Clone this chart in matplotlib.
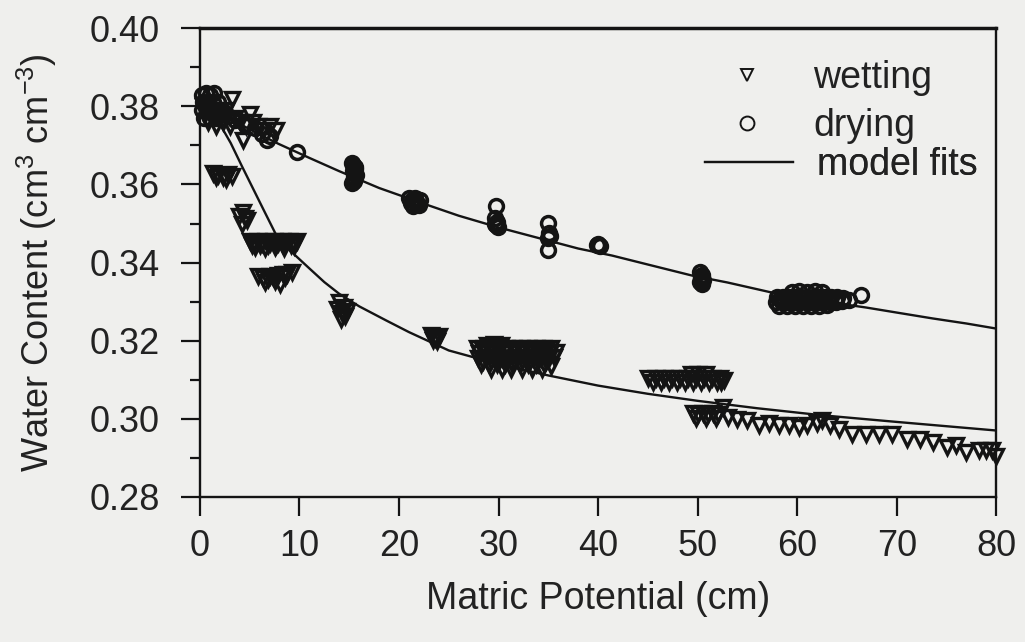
import numpy as np
import matplotlib
matplotlib.use('Agg')
import matplotlib.pyplot as plt
from matplotlib.lines import Line2D

plt.rcParams['font.family'] = ['Liberation Sans', 'DejaVu Sans']
plt.rcParams['mathtext.default'] = 'regular'

# --- wetting observations (matric potential cm, water content) ---
wet_x = [0.3, 0.5, 0.8, 1.0, 1.3, 1.6, 2.0, 2.3, 2.6, 3.0, 3.2, 3.5, 4.0, 4.3, 4.6, 5.0, 5.3, 5.8, 6.3, 7.0, 7.6,
         1.3, 1.8, 2.3, 2.8, 3.2, 1.6, 2.6,
         3.9, 4.3, 4.7, 4.2, 4.5,
         5.0, 5.4, 5.8, 6.2, 6.6, 7.0, 7.4, 7.8, 8.2, 8.6, 9.0, 9.4, 9.8, 5.5, 6.5, 7.5, 8.5, 9.5,
         5.2, 6.0, 6.8, 7.6, 8.4, 9.2,
         5.8, 6.3, 6.8, 7.3, 7.8, 8.3, 8.8, 9.3, 6.5, 7.5, 8.0, 7.0, 8.6,
         14.0, 14.5, 13.8, 14.3, 14.6, 14.2, 14.8,
         23.2, 23.6, 24.0, 23.8, 23.4,
         28.8, 29.5, 30.2,
         27.8, 28.5, 29.3, 30.0, 30.8, 31.5, 32.3, 33.0, 33.8, 34.5, 35.3,
         28.0, 28.8, 29.6, 30.4, 31.2, 32.0, 32.8, 33.6, 34.4, 35.2, 35.8,
         27.9, 28.7, 29.5, 30.3, 31.1, 31.9, 32.7, 33.5, 34.3, 35.1, 35.6,
         28.2, 29.0, 29.8, 30.6, 31.4, 32.2, 33.0, 33.8, 34.6, 35.3,
         29.2, 30.3, 31.3, 32.4, 33.4, 34.4,
         28.4, 29.2, 30.0, 30.8, 31.6, 32.4, 33.2, 34.0, 34.8,
         28.4, 29.2, 30.0, 30.8, 31.6, 32.4, 33.2, 34.0, 34.8,
         45.0, 45.8, 46.6, 47.4, 48.2, 49.0, 49.8, 50.6, 51.4, 52.2,
         45.5, 46.3, 47.1, 47.9, 48.7, 49.5, 50.3, 51.1, 51.9,
         49.3, 50.0, 50.8, 52.6, 52.3,
         49.5, 50.0, 50.5, 51.0, 51.5, 52.0, 49.8, 50.8, 51.8, 52.5,
         53.0, 54.0, 55.0, 56.2, 57.2, 58.2, 59.2, 60.2, 61.0, 62.0, 62.5, 63.3, 64.2, 65.5,
         66.9, 68.2, 69.5, 71.0, 72.3, 73.6, 75.0, 76.0, 77.0, 78.3, 79.0, 79.6, 80.0]
wet_y = [0.380, 0.378, 0.376, 0.379, 0.377, 0.375, 0.378, 0.376, 0.379, 0.375, 0.382, 0.377, 0.376, 0.3715, 0.375,
         0.378, 0.376, 0.375, 0.374, 0.375, 0.374,
         0.3630, 0.3625, 0.3620, 0.3628, 0.3622, 0.3618, 0.3615,
         0.352, 0.353, 0.351, 0.350, 0.3515,
         0.3455, 0.3450, 0.3455, 0.3450, 0.3455, 0.3450, 0.3455, 0.3450, 0.3455, 0.3450, 0.3455, 0.3450, 0.3455,
         0.3440, 0.3438, 0.3440, 0.3438, 0.3442,
         0.3445, 0.3445, 0.3445, 0.3445, 0.3445, 0.3445,
         0.3365, 0.3360, 0.3358, 0.3362, 0.3368, 0.3370, 0.3372, 0.3375, 0.3350, 0.3352, 0.3345, 0.3366, 0.3362,
         0.3300, 0.3285, 0.3280, 0.3270, 0.3262, 0.3255, 0.3275,
         0.3215, 0.3208, 0.3212, 0.3200, 0.3203,
         0.3190, 0.3192, 0.3190,
         0.3180, 0.3180, 0.3180, 0.3180, 0.3180, 0.3180, 0.3180, 0.3180, 0.3180, 0.3180, 0.3182,
         0.3168, 0.3168, 0.3168, 0.3168, 0.3168, 0.3168, 0.3168, 0.3168, 0.3168, 0.3168, 0.3170,
         0.3155, 0.3155, 0.3155, 0.3155, 0.3155, 0.3155, 0.3155, 0.3155, 0.3155, 0.3155, 0.3157,
         0.3140, 0.3140, 0.3140, 0.3140, 0.3140, 0.3140, 0.3140, 0.3140, 0.3140, 0.3135,
         0.3127, 0.3127, 0.3127, 0.3127, 0.3127, 0.3127,
         0.3174, 0.3174, 0.3174, 0.3174, 0.3174, 0.3174, 0.3174, 0.3174, 0.3174,
         0.3148, 0.3148, 0.3148, 0.3148, 0.3148, 0.3148, 0.3148, 0.3148, 0.3148,
         0.3105, 0.3105, 0.3105, 0.3105, 0.3105, 0.3105, 0.3105, 0.3105, 0.3105, 0.3105,
         0.3093, 0.3093, 0.3093, 0.3093, 0.3093, 0.3093, 0.3093, 0.3093, 0.3093,
         0.3115, 0.3115, 0.3115, 0.3100, 0.3095,
         0.3015, 0.3012, 0.3015, 0.3012, 0.3015, 0.3012, 0.3002, 0.3002, 0.3002, 0.3030,
         0.3005, 0.3000, 0.2998, 0.2985, 0.2988, 0.2985, 0.2983, 0.2980, 0.2985, 0.2990, 0.2998, 0.2985, 0.2975,
         0.2960, 0.2960, 0.2960, 0.2962, 0.2948, 0.2948, 0.2940, 0.2928, 0.2932, 0.2915, 0.2920, 0.2920, 0.2920,
         0.2905]

# --- drying observations ---
dry_x = [0.2, 0.6, 1.0, 1.4, 0.3, 0.8, 1.3, 1.8, 0.2, 0.7, 1.2, 1.7, 2.2, 0.4, 1.0, 1.6, 2.2, 2.8,
         3.5, 4.5, 5.5, 6.2, 6.7, 7.0,
         9.75,
         15.3, 15.6, 15.4, 15.7, 15.5, 15.3, 15.6, 15.4, 15.6, 15.5, 15.5,
         21.0, 21.6, 22.1, 21.2, 21.8, 21.4, 22.0, 21.5, 21.7, 21.3,
         29.7, 29.6, 29.8, 29.7, 29.9, 29.6,
         35.0, 35.1, 35.0, 35.2, 35.0,
         40.0, 40.2, 39.9,
         50.2, 50.4, 50.3, 50.5, 50.2, 50.4, 50.3, 50.3,
         59.5, 60.2, 61.0, 61.8, 62.5,
         58.0, 58.6, 59.2, 59.8, 60.4, 61.0, 61.6, 62.2, 62.8, 63.4, 64.0, 64.6,
         57.9, 58.5, 59.1, 59.7, 60.3, 60.9, 61.5, 62.1, 62.7, 63.3, 63.9, 64.5, 65.2,
         58.2, 59.0, 59.8, 60.6, 61.4, 62.2, 63.0,
         58.3, 59.1, 59.9, 60.7, 61.5, 62.3, 63.1, 63.9,
         66.4]
dry_y = [0.3830, 0.3835, 0.3830, 0.3835, 0.3810, 0.3810, 0.3810, 0.3810, 0.3790, 0.3790, 0.3790, 0.3790, 0.3790,
         0.3770, 0.3770, 0.3770, 0.3770, 0.3775,
         0.3765, 0.3755, 0.3745, 0.3730, 0.3715, 0.3725,
         0.3683,
         0.3655, 0.3645, 0.3635, 0.3625, 0.3615, 0.3605, 0.3640, 0.3650, 0.3630, 0.3620, 0.3610,
         0.3565, 0.3565, 0.3560, 0.3552, 0.3550, 0.3545, 0.3548, 0.3558, 0.3555, 0.3560,
         0.3545, 0.3515, 0.3505, 0.3495, 0.3490, 0.3500,
         0.3502, 0.3475, 0.3462, 0.3468, 0.3432,
         0.3447, 0.3443, 0.3444,
         0.3375, 0.3368, 0.3360, 0.3355, 0.3350, 0.3345, 0.3365, 0.3352,
         0.3325, 0.3327, 0.3325, 0.3327, 0.3325,
         0.3312, 0.3312, 0.3312, 0.3312, 0.3312, 0.3312, 0.3312, 0.3312, 0.3312, 0.3312, 0.3312, 0.3310,
         0.3300, 0.3300, 0.3300, 0.3300, 0.3300, 0.3300, 0.3300, 0.3300, 0.3300, 0.3300, 0.3300, 0.3302, 0.3305,
         0.3290, 0.3290, 0.3290, 0.3290, 0.3290, 0.3290, 0.3292,
         0.3306, 0.3306, 0.3306, 0.3306, 0.3306, 0.3306, 0.3306, 0.3306,
         0.3318]

# --- model fit curves ---
fit_wet_x = [0.0, 1.0, 2.0, 3.1, 4.2, 5.35, 6.5, 7.6, 8.5, 9.6, 11.0, 12.5, 14.0, 16.0, 18.7, 21.0, 25.0,
             30.0, 35.0, 40.0, 45.0, 50.0, 56.0, 62.5, 70.0, 75.0, 80.0]
fit_wet_y = [0.3810, 0.3790, 0.3755, 0.3706, 0.3648, 0.3589, 0.3530, 0.3474, 0.3445, 0.3418, 0.3385, 0.3350,
             0.3320, 0.3288, 0.3252, 0.3222, 0.3175, 0.3140, 0.3111, 0.3085, 0.3064, 0.3046, 0.3027, 0.3009,
             0.2992, 0.2981, 0.2970]
fit_dry_x = [0.0, 2.0, 4.0, 6.0, 7.9, 11.0, 14.0, 18.0, 22.0, 26.0, 30.0, 34.0, 38.0, 41.4, 45.0, 49.4,
             53.0, 57.5, 62.0, 66.9, 70.0, 73.6, 77.0, 80.0]
fit_dry_y = [0.3825, 0.3785, 0.3755, 0.3728, 0.3704, 0.3668, 0.3634, 0.3591, 0.3555, 0.3520, 0.3490, 0.3463,
             0.3436, 0.3418, 0.3395, 0.3367, 0.3349, 0.3323, 0.3303, 0.3285, 0.3272, 0.3257, 0.3244, 0.3231]

bg = '#efefed'
ink = '#141414'
txt = '#222222'

fig = plt.figure(figsize=(10.25, 6.42), dpi=100, facecolor=bg)
ax = fig.add_axes([0.195, 0.226, 0.777, 0.730], facecolor=bg)

ax.plot(fit_wet_x, fit_wet_y, color=ink, lw=1.7, zorder=2)
ax.plot(fit_dry_x, fit_dry_y, color=ink, lw=1.7, zorder=2)
ax.plot(wet_x, wet_y, linestyle='none', marker='v', markersize=10.5, mfc='none', mec=ink, mew=2.4,
        zorder=3, clip_on=False)
ax.plot(dry_x, dry_y, linestyle='none', marker='o', markersize=10, mfc='none', mec=ink, mew=2.5,
        zorder=3, clip_on=False)

ax.set_xlim(0, 80)
ax.set_ylim(0.28, 0.40)
ax.set_xticks(np.arange(0, 81, 10))
ax.set_yticks([0.28, 0.30, 0.32, 0.34, 0.36, 0.38, 0.40])
ax.set_yticklabels(['0.28', '0.30', '0.32', '0.34', '0.36', '0.38', '0.40'])
ax.set_yticks([0.29, 0.31, 0.33, 0.35, 0.37, 0.39], minor=True)

ax.tick_params(axis='both', which='major', direction='out', length=14, width=1.6, colors=ink,
               labelsize=26, labelcolor=txt)
ax.tick_params(axis='y', which='minor', direction='out', length=7, width=1.6, colors=ink)
ax.tick_params(axis='x', pad=9)
ax.tick_params(axis='y', pad=15)
for s in ax.spines.values():
    s.set_linewidth(1.7)
    s.set_color(ink)
ax.spines['top'].set_linewidth(2.5)

ax.set_xlabel('Matric Potential (cm)', fontsize=27, color=txt, labelpad=12)
ax.set_ylabel('Water Content (cm$^3$ cm$^{-3}$)', fontsize=26, color=txt, labelpad=22)

# legend: one entry per block so the rows can sit where the original has them
legend_rows = [
    (Line2D([], [], linestyle='none', marker='v', markersize=8, mfc='none', mec=ink, mew=1.4),
     'wetting', 692, 60, 2.93, 0.3),
    (Line2D([], [], linestyle='none', marker='o', markersize=10, mfc='none', mec=ink, mew=1.4),
     'drying', 692, 108, 2.93, 0.3),
    (Line2D([], [], color=ink, lw=1.6), 'model fits', 705, 147, 2.35, 0.64),
]
for handle, label, px, py, hl, pad in legend_rows:
    leg = ax.legend([handle], [label], loc='upper left',
                    bbox_to_anchor=(px / 1025, 1 - py / 642), bbox_transform=fig.transFigure,
                    frameon=False, fontsize=27, handlelength=hl, handletextpad=pad,
                    borderpad=0, borderaxespad=0, labelcolor=txt)
    ax.add_artist(leg)

fig.savefig('out.png', dpi=100, facecolor=bg)
